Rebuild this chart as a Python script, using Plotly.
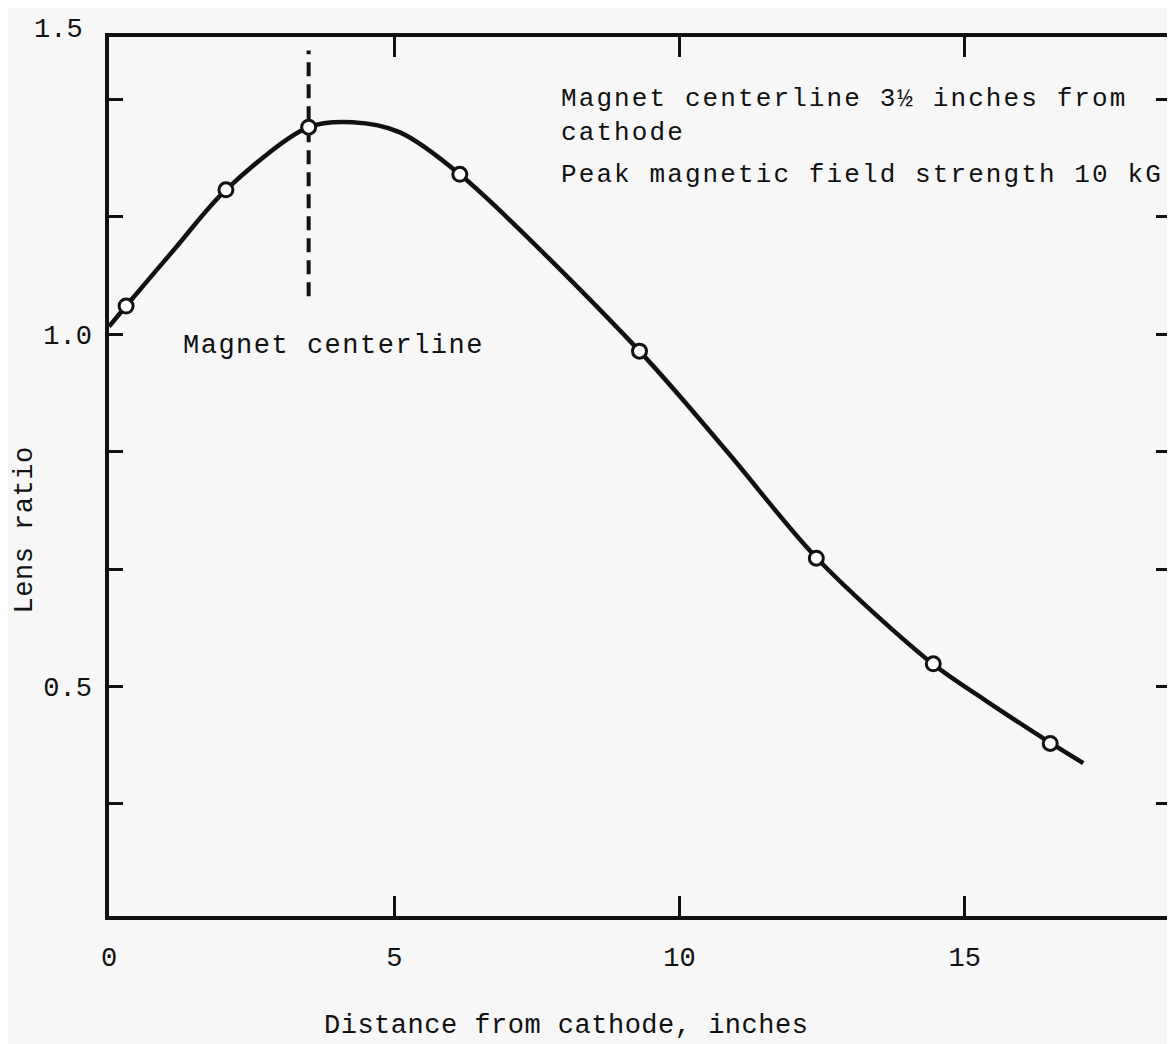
import plotly.graph_objects as go

# ---- data ----
curve_x = [0.00, 0.30, 1.15, 2.05, 3.50, 4.27, 5.09, 6.15, 9.30, 10.86, 12.41, 14.44, 15.33, 16.52, 17.08]
curve_y = [1.011, 1.040, 1.121, 1.205, 1.294, 1.301, 1.287, 1.227, 0.976, 0.831, 0.682, 0.532, 0.482, 0.419, 0.391]

point_x = [0.3, 2.05, 3.5, 6.15, 9.3, 12.4, 14.45, 16.5]
point_y = [1.040, 1.205, 1.294, 1.227, 0.976, 0.682, 0.532, 0.419]

magnet_x = [3.5, 3.5]
magnet_y = [1.054, 1.403]

x_tickvals = [0, 5, 10, 15]
x_ticktext = ["0", "5", "10", "15"]
y_tickvals = [1/3, 0.5, 2/3, 5/6, 1.0, 7/6, 4/3]
y_ticktext = ["", "0.5", "", "", "1.0", "", ""]

FONT = "Liberation Mono, Courier New, monospace"
INK = "#111111"
BG = "#f7f7f7"
FS = 27


def sp(t, ls=1.5):
    return f'<span style="letter-spacing:{ls}px">{t}</span>'


fig = go.Figure()

fig.add_trace(go.Scatter(
    x=magnet_x, y=magnet_y, mode="lines",
    line=dict(color=INK, width=4, dash="14px,8px"),
    showlegend=False, hoverinfo="skip"))

fig.add_trace(go.Scatter(
    x=curve_x, y=curve_y, mode="lines",
    line=dict(color=INK, width=4.5, shape="spline", smoothing=0.9),
    showlegend=False, hoverinfo="skip"))

fig.add_trace(go.Scatter(
    x=point_x, y=point_y, mode="markers",
    marker=dict(symbol="circle", size=14, color="white",
                line=dict(color=INK, width=3)),
    showlegend=False))

# top-right notes
fig.add_annotation(x=7.88, y=1.310, xref="x", yref="y", showarrow=False,
                   text=sp("Magnet centerline 3½ inches from", 2.1) + "<br>" + sp("cathode", 2.1),
                   align="left", xanchor="left", yanchor="middle",
                   font=dict(family=FONT, size=26, color=INK))
fig.add_annotation(x=7.88, y=1.226, xref="x", yref="y", showarrow=False,
                   text=sp("Peak magnetic field strength 10 kG", 2.1),
                   xanchor="left", yanchor="middle",
                   font=dict(family=FONT, size=26, color=INK))
fig.add_annotation(x=1.26, y=0.983, xref="x", yref="y", showarrow=False,
                   text=sp("Magnet centerline"), xanchor="left", yanchor="middle",
                   font=dict(family=FONT, size=FS, color=INK))

# "1.5" label at top-left corner of the frame
fig.add_annotation(x=-0.048, y=1.008, xref="paper", yref="paper", text="1.5",
                   showarrow=False, xanchor="center", yanchor="middle",
                   font=dict(family=FONT, size=FS, color=INK))
# axis titles
fig.add_annotation(x=-0.0789, y=0.439, xref="paper", yref="paper", text=sp("Lens ratio", 0.5),
                   showarrow=False, textangle=-90, xanchor="center", yanchor="middle",
                   font=dict(family=FONT, size=FS, color=INK))
fig.add_annotation(x=0.431, y=-0.125, xref="paper", yref="paper",
                   text=sp("Distance from cathode, inches", 0.5),
                   showarrow=False, xanchor="center", yanchor="middle",
                   font=dict(family=FONT, size=FS, color=INK))

fig.update_layout(
    width=1167, height=1036,
    margin=dict(l=101, r=1, t=29, b=128),
    paper_bgcolor=BG, plot_bgcolor=BG,
    font=dict(family=FONT, size=FS, color=INK),
    xaxis=dict(range=[0, 18.6], tickvals=x_tickvals, ticktext=x_ticktext,
               ticks="inside", ticklen=20, tickwidth=3, tickcolor=INK,
               showline=True, linewidth=3.5, linecolor=INK, mirror="ticks",
               showgrid=False, zeroline=False, ticklabelstandoff=14,
               tickfont=dict(family=FONT, size=FS, color=INK)),
    yaxis=dict(range=[0.174, 1.422], tickvals=y_tickvals, ticktext=y_ticktext,
               ticks="inside", ticklen=14, tickwidth=3, tickcolor=INK,
               showline=True, linewidth=3.5, linecolor=INK, mirror="ticks",
               showgrid=False, zeroline=False, ticklabelstandoff=8,
               tickfont=dict(family=FONT, size=FS, color=INK)),
)

fig.write_html("out.html")
